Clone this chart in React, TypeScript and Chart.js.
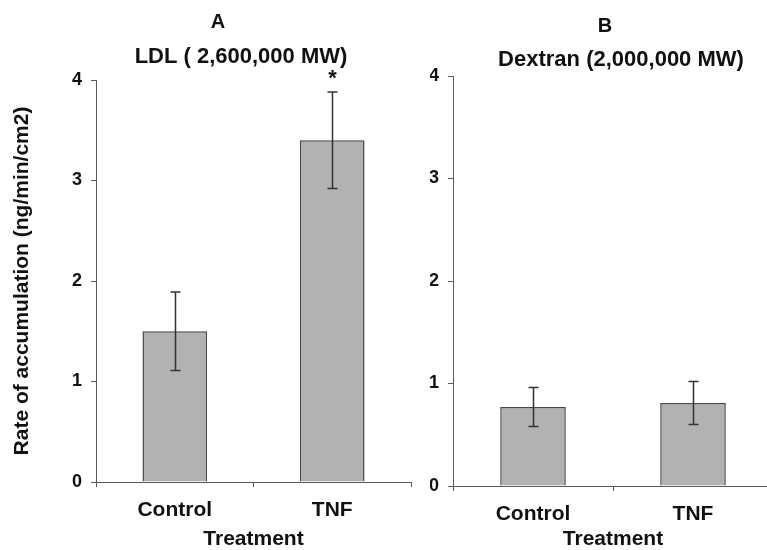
import React, { useEffect, useRef } from "react";
import { Chart, registerables } from "chart.js";

Chart.register(...registerables);

const categories = ["Control", "TNF"];
const ldlMeans = [1.5, 3.4];
const ldlErrors = [0.39, 0.48];
const dextranMeans = [0.77, 0.81];
const dextranErrors = [0.19, 0.21];
const ldlStars = [false, true];
const dextranStars = [false, false];
const yMin = 0;
const yMax = 4;
const yStep = 1;
const panelLetters = ["A", "B"];
const panelTitles = ["LDL ( 2,600,000 MW)", "Dextran (2,000,000 MW)"];
const yAxisTitle = "Rate of accumulation (ng/min/cm2)";
const xAxisTitle = "Treatment";

const FAMILY = '"Liberation Sans", Arial, Helvetica, sans-serif';
const TEXT = "#111111";
const AXIS = "#5a5a5a";

const errorBarPlugin = {
  id: "errorBars",
  afterDatasetsDraw(chart: any, _args: any, opts: any) {
    const { ctx } = chart;
    const y = chart.scales.y;
    const meta = chart.getDatasetMeta(0);
    const means: number[] = chart.data.datasets[0].data;
    const errs: number[] = opts.errors || [];
    const stars: boolean[] = opts.stars || [];
    ctx.save();
    ctx.strokeStyle = "#333333";
    ctx.lineWidth = 1.5;
    const cap = 5;
    meta.data.forEach((bar: any, i: number) => {
      const x = Math.round(bar.x) + 0.5;
      const yt = y.getPixelForValue(means[i] + errs[i]);
      const yb = y.getPixelForValue(means[i] - errs[i]);
      ctx.beginPath();
      ctx.moveTo(x, yt);
      ctx.lineTo(x, yb);
      ctx.moveTo(x - cap, yt);
      ctx.lineTo(x + cap, yt);
      ctx.moveTo(x - cap, yb);
      ctx.lineTo(x + cap, yb);
      ctx.stroke();
      if (stars[i]) {
        ctx.fillStyle = TEXT;
        ctx.font = `bold 22px ${FAMILY}`;
        ctx.textAlign = "center";
        ctx.textBaseline = "alphabetic";
        ctx.fillText("*", x, yt - 7);
      }
    });
    ctx.restore();
  },
};

const panelTitlePlugin = {
  id: "panelTitles",
  afterDraw(chart: any, _args: any, opts: any) {
    const { ctx, chartArea } = chart;
    ctx.save();
    ctx.fillStyle = TEXT;
    ctx.textAlign = "center";
    ctx.textBaseline = "alphabetic";
    ctx.font = `bold 20px ${FAMILY}`;
    ctx.fillText(opts.letter, chartArea.left + opts.letterDx, opts.letterY);
    ctx.font = `bold 22px ${FAMILY}`;
    ctx.fillText(opts.title, chartArea.left + opts.titleDx, opts.titleY);
    ctx.restore();
  },
};

type PanelProps = {
  left: number;
  width: number;
  means: number[];
  errors: number[];
  stars: boolean[];
  letter: string;
  title: string;
  showYTitle: boolean;
  yAxisWidth: number;
  padTop: number;
  padRight: number;
  xAxisHeight: number;
  letterDx: number;
  letterY: number;
  titleDx: number;
  titleY: number;
};

function Panel(p: PanelProps) {
  const ref = useRef<HTMLCanvasElement | null>(null);
  useEffect(() => {
    if (!ref.current) return;
    const chart = new Chart(ref.current, {
      type: "bar",
      data: {
        labels: categories,
        datasets: [
          {
            data: p.means,
            backgroundColor: "#b2b2b2",
            borderColor: "#484848",
            borderWidth: 1.5,
            categoryPercentage: 1,
            barPercentage: 0.41,
          },
        ],
      },
      plugins: [errorBarPlugin, panelTitlePlugin],
      options: {
        responsive: false,
        animation: false,
        devicePixelRatio: 1,
        layout: { padding: { top: p.padTop, right: p.padRight, left: 0, bottom: 0 } },
        plugins: {
          legend: { display: false },
          tooltip: { enabled: false },
          title: { display: false },
          errorBars: { errors: p.errors, stars: p.stars },
          panelTitles: {
            letter: p.letter,
            title: p.title,
            letterDx: p.letterDx,
            letterY: p.letterY,
            titleDx: p.titleDx,
            titleY: p.titleY,
          },
        } as any,
        scales: {
          x: {
            type: "category",
            offset: true,
            grid: {
              offset: true,
              drawOnChartArea: false,
              drawTicks: true,
              tickLength: 5,
              color: AXIS,
            },
            border: { display: true, color: AXIS, width: 1 },
            ticks: {
              color: TEXT,
              padding: 11,
              font: { family: FAMILY, size: 21, weight: "bold" },
            },
            title: {
              display: true,
              text: xAxisTitle,
              color: TEXT,
              padding: { top: 0, bottom: 0 },
              font: { family: FAMILY, size: 21, weight: "bold", lineHeight: 1 },
            },
            afterFit: (scale: any) => {
              scale.height = p.xAxisHeight;
            },
          },
          y: {
            min: yMin,
            max: yMax,
            grid: {
              drawOnChartArea: false,
              drawTicks: true,
              tickLength: 5,
              color: AXIS,
            },
            border: { display: true, color: AXIS, width: 1 },
            ticks: {
              stepSize: yStep,
              color: TEXT,
              padding: 9,
              font: { family: FAMILY, size: 18, weight: "bold" },
            },
            title: {
              display: p.showYTitle,
              text: yAxisTitle,
              color: TEXT,
              padding: { top: 12, bottom: 0 },
              font: { family: FAMILY, size: 21, weight: "bold", lineHeight: 1 },
            },
            afterFit: (scale: any) => {
              scale.width = p.yAxisWidth;
            },
          },
        },
      } as any,
    });
    return () => chart.destroy();
  }, []);
  return (
    <canvas
      ref={ref}
      width={p.width}
      height={550}
      style={{ position: "absolute", left: p.left, top: 0, width: p.width, height: 550 }}
    />
  );
}

export default function App() {
  return (
    <div
      style={{
        position: "fixed",
        left: 0,
        top: 0,
        width: 767,
        height: 550,
        overflow: "hidden",
        background: "#ffffff",
      }}
    >
      <Panel
        left={0}
        width={440}
        means={ldlMeans}
        errors={ldlErrors}
        stars={ldlStars}
        letter={panelLetters[0]}
        title={panelTitles[0]}
        showYTitle={true}
        yAxisWidth={96}
        padTop={80}
        padRight={29}
        xAxisHeight={68}
        letterDx={122}
        letterY={28}
        titleDx={145}
        titleY={63}
      />
      <Panel
        left={430}
        width={350}
        means={dextranMeans}
        errors={dextranErrors}
        stars={dextranStars}
        letter={panelLetters[1]}
        title={panelTitles[1]}
        showYTitle={false}
        yAxisWidth={23}
        padTop={76}
        padRight={7}
        xAxisHeight={64}
        letterDx={152}
        letterY={32}
        titleDx={168}
        titleY={66}
      />
    </div>
  );
}
